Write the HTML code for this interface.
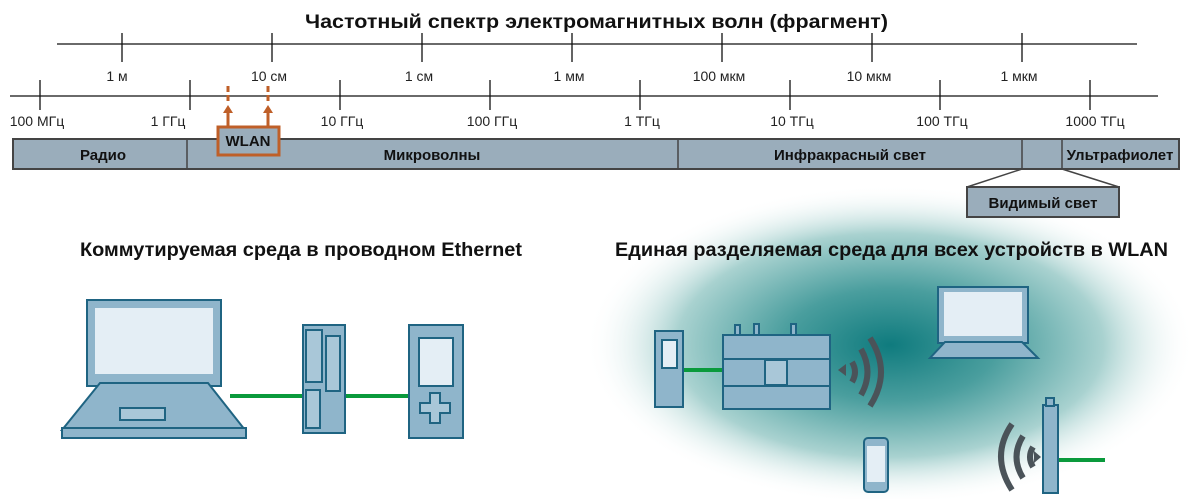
<!DOCTYPE html>
<html><head><meta charset="utf-8"><style>
html,body{margin:0;padding:0;background:#fff;}
svg{display:block;font-family:"Liberation Sans",sans-serif;}
</style></head><body>
<svg width="1189" height="499" viewBox="0 0 1189 499" xmlns="http://www.w3.org/2000/svg">
<defs>
<radialGradient id="g" cx="0.5" cy="0.5" r="0.5">
<stop offset="0" stop-color="#0f7b7e"/>
<stop offset="0.35" stop-color="#4a9e9e"/>
<stop offset="0.7" stop-color="#a9d2d0"/>
<stop offset="1" stop-color="#ffffff" stop-opacity="0"/>
</radialGradient>
</defs>
<ellipse cx="890" cy="345" rx="305" ry="160" fill="url(#g)"/>
<text x="305" y="28" font-size="19" font-weight="bold" fill="#111" textLength="583" lengthAdjust="spacingAndGlyphs">Частотный  спектр  электромагнитных  волн  (фрагмент)</text>
<g stroke="#111" stroke-width="1.3">
<line x1="57" y1="44" x2="1137" y2="44"/>
<line x1="122" y1="33" x2="122" y2="62"/><line x1="272" y1="33" x2="272" y2="62"/><line x1="422" y1="33" x2="422" y2="62"/><line x1="572" y1="33" x2="572" y2="62"/><line x1="722" y1="33" x2="722" y2="62"/><line x1="872" y1="33" x2="872" y2="62"/><line x1="1022" y1="33" x2="1022" y2="62"/>
<line x1="10" y1="96" x2="1158" y2="96"/>
<line x1="40" y1="80" x2="40" y2="110"/><line x1="190" y1="80" x2="190" y2="110"/><line x1="340" y1="80" x2="340" y2="110"/><line x1="490" y1="80" x2="490" y2="110"/><line x1="640" y1="80" x2="640" y2="110"/><line x1="790" y1="80" x2="790" y2="110"/><line x1="940" y1="80" x2="940" y2="110"/><line x1="1090" y1="80" x2="1090" y2="110"/>
</g>
<g font-size="14" fill="#222" text-anchor="middle">
<text x="117" y="81">1 м</text><text x="269" y="81">10 см</text><text x="419" y="81">1 см</text><text x="569" y="81">1 мм</text><text x="719" y="81">100 мкм</text><text x="869" y="81">10 мкм</text><text x="1019" y="81">1 мкм</text>
<text x="37" y="126">100 МГц</text><text x="168" y="126">1 ГГц</text><text x="342" y="126">10 ГГц</text><text x="492" y="126">100 ГГц</text><text x="642" y="126">1 ТГц</text><text x="792" y="126">10 ТГц</text><text x="942" y="126">100 ТГц</text><text x="1095" y="126">1000 ТГц</text>
</g>
<g stroke="#bf5f28" stroke-width="3" fill="#bf5f28">
<line x1="228" y1="86" x2="228" y2="104" stroke-dasharray="6,3"/>
<line x1="268" y1="86" x2="268" y2="104" stroke-dasharray="6,3"/>
<line x1="228" y1="112" x2="228" y2="128"/><line x1="268" y1="112" x2="268" y2="128"/>
<polygon points="223,113 233,113 228,105" stroke="none"/><polygon points="263,113 273,113 268,105" stroke="none"/>
</g>
<rect x="13" y="139" width="1166" height="30" fill="#9aadbb" stroke="#444" stroke-width="2"/>
<g stroke="#444" stroke-width="1.5">
<line x1="187" y1="139" x2="187" y2="169"/><line x1="678" y1="139" x2="678" y2="169"/><line x1="1022" y1="139" x2="1022" y2="169"/><line x1="1062" y1="139" x2="1062" y2="169"/>
<line x1="1022" y1="169" x2="967" y2="187"/><line x1="1062" y1="169" x2="1119" y2="187"/>
</g>
<rect x="218" y="127" width="61" height="28" fill="#9aadbb" stroke="#bf5f28" stroke-width="3"/>
<rect x="967" y="187" width="152" height="30" fill="#9aadbb" stroke="#444" stroke-width="2"/>
<g font-size="15" font-weight="bold" fill="#111" text-anchor="middle">
<text x="248" y="146">WLAN</text>
<text x="103" y="160">Радио</text><text x="432" y="160">Микроволны</text><text x="850" y="160">Инфракрасный свет</text><text x="1120" y="160">Ультрафиолет</text>
<text x="1043" y="208">Видимый свет</text>
</g>
<g font-size="19" font-weight="bold" fill="#111">
<text x="80" y="256" textLength="442" lengthAdjust="spacingAndGlyphs">Коммутируемая среда в проводном Ethernet</text>
<text x="615" y="256" textLength="553" lengthAdjust="spacingAndGlyphs">Единая разделяемая среда для всех устройств  в WLAN</text>
</g>
<!-- left devices -->
<g stroke="#1f6482" stroke-width="2" fill="#8fb5cb">
<line x1="230" y1="396" x2="305" y2="396" stroke="#0a9a3c" stroke-width="4"/>
<line x1="345" y1="396" x2="410" y2="396" stroke="#0a9a3c" stroke-width="4"/>
<rect x="87" y="300" width="134" height="86"/>
<rect x="95" y="308" width="118" height="66" fill="#e4eef5" stroke="none"/>
<polygon points="100,383 208,383 245,430 62,430"/>
<rect x="62" y="428" width="184" height="10"/>
<rect x="120" y="408" width="45" height="12" fill="#a9c7d8"/>
<rect x="303" y="325" width="42" height="108"/>
<rect x="306" y="330" width="16" height="52" fill="#a9c7d8"/>
<rect x="326" y="336" width="14" height="55" fill="#a9c7d8"/>
<rect x="306" y="390" width="14" height="38" fill="#a9c7d8"/>
<rect x="409" y="325" width="54" height="113"/>
<rect x="419" y="338" width="34" height="48" fill="#e4eef5"/>
<path d="M430 393h10v10h10v10h-10v10h-10v-10h-10v-10h10z" fill="#a9c7d8"/>
</g>
<!-- right devices -->
<g stroke="#1f6482" stroke-width="2" fill="#8fb5cb">
<line x1="683" y1="370" x2="722" y2="370" stroke="#0a9a3c" stroke-width="4"/>
<line x1="1058" y1="460" x2="1105" y2="460" stroke="#0a9a3c" stroke-width="4"/>
<rect x="655" y="331" width="28" height="76"/>
<rect x="662" y="340" width="15" height="28" fill="#e4eef5"/>
<rect x="723" y="335" width="107" height="74"/>
<line x1="723" y1="359" x2="830" y2="359"/><line x1="723" y1="386" x2="830" y2="386"/>
<rect x="765" y="360" width="22" height="25" fill="#a9c7d8"/>
<rect x="735" y="325" width="5" height="10"/><rect x="754" y="324" width="5" height="11"/><rect x="791" y="324" width="5" height="11"/>
<rect x="938" y="287" width="90" height="56"/>
<rect x="944" y="292" width="78" height="44" fill="#e4eef5" stroke="none"/>
<polygon points="945,342 1022,342 1038,358 930,358"/>
<rect x="864" y="438" width="24" height="54" rx="4"/>
<rect x="867" y="446" width="18" height="36" fill="#e4eef5" stroke="none"/>
<rect x="1043" y="405" width="15" height="88"/>
<rect x="1046" y="398" width="8" height="8"/>
</g>
<g fill="none" stroke="#4a5359" stroke-width="6">
<path d="M852 362 q6 10 0 20"/>
<path d="M861 349 q13 23 0 46"/>
<path d="M870 338 q22 34 0 68"/>
<path d="M1033 447 q-6 10 0 20"/>
<path d="M1023 436 q-13 21 0 42"/>
<path d="M1012 424 q-22 32 0 66"/>
</g>
<polygon points="838,370 846,364 846,376" fill="#4a5359"/>
<polygon points="1041,457 1034,451 1034,463" fill="#4a5359"/>
</svg>
</body></html>
